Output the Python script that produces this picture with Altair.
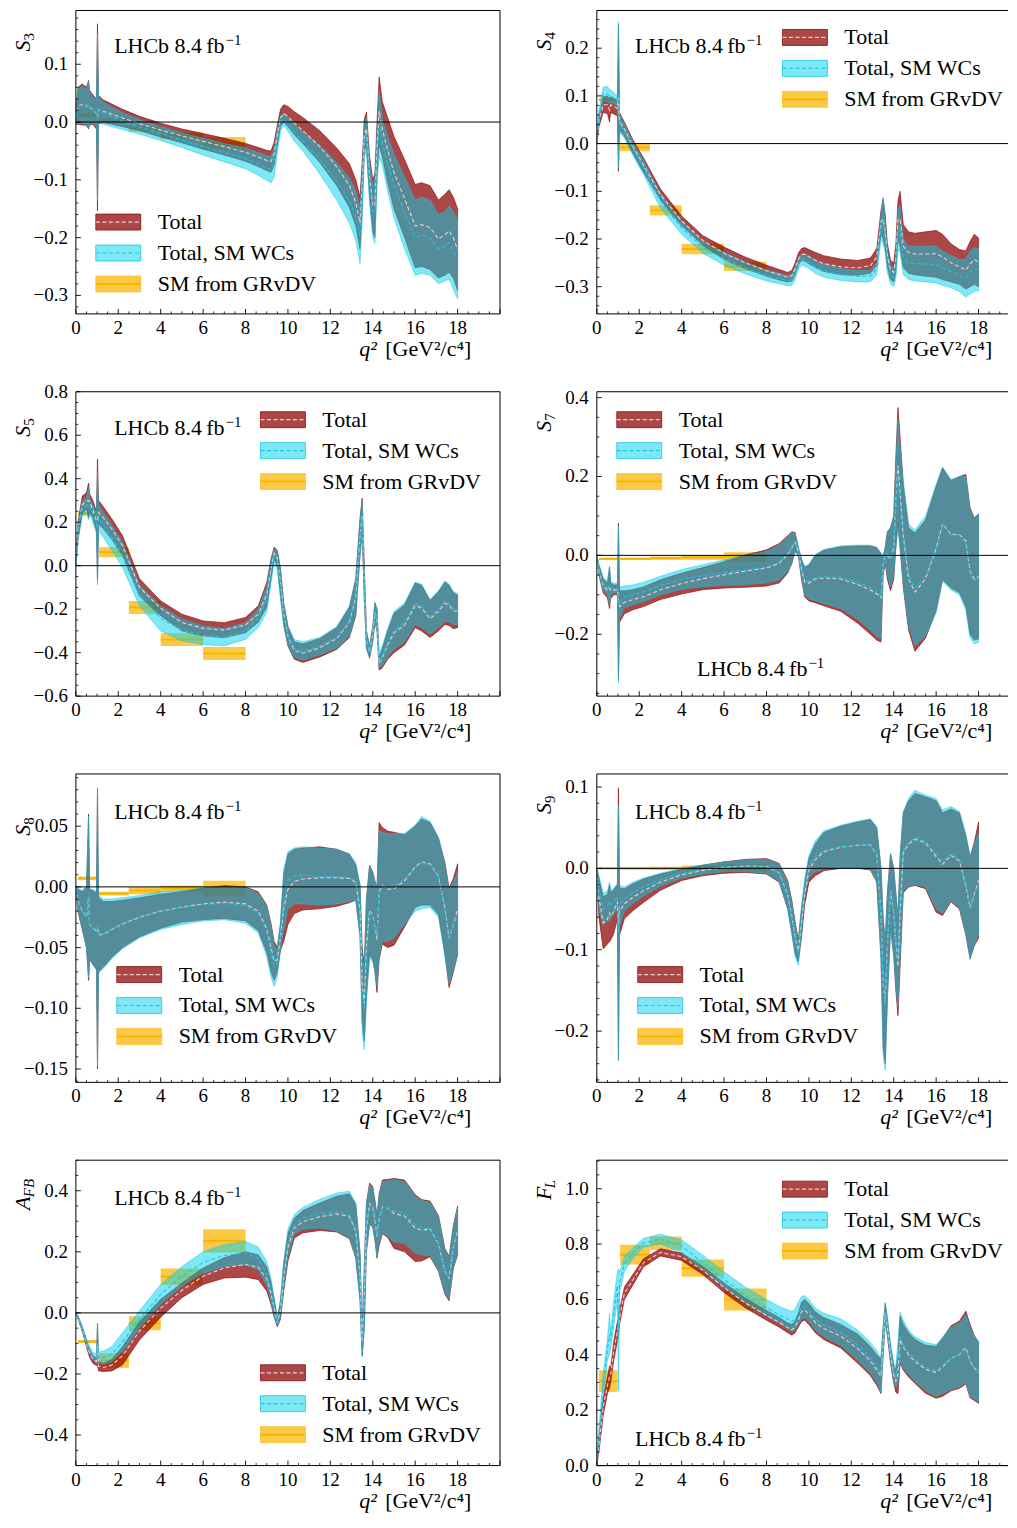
import altair as alt
import numpy as np
import pandas as pd

# ---------------- data ----------------
Q2 = [0.0, 0.1, 0.3, 0.5, 0.6, 0.65, 0.8, 0.97, 1.02, 1.07,
      1.3, 1.7, 2.2, 3.0, 4.0, 5.0, 6.0, 7.0, 8.0, 8.6,
      9.0, 9.2, 9.35, 9.5, 9.65, 9.8, 10.0, 10.3, 10.7, 11.5,
      12.3, 12.9, 13.2, 13.4, 13.5, 13.6, 13.7, 13.85, 14.0, 14.1,
      14.2, 14.3, 14.45, 14.7, 15.0, 15.5, 16.0, 16.3, 16.7, 17.1,
      17.4, 17.6, 17.8, 18.0]

# S3
S3_TOTAL_LO = [-0.004, -0.004, -0.005, -0.006, -0.012, -0.005, -0.004, -0.012, -0.154, -0.003,
               -0.001, -0.004, -0.008, -0.015, -0.026, -0.036, -0.047, -0.057, -0.068, -0.077,
               -0.084, -0.087, -0.075, -0.04, -0.008, 0.0, -0.008, -0.022, -0.037, -0.07,
               -0.11, -0.148, -0.18, -0.22, -0.15, -0.05, -0.04, -0.13, -0.19, -0.2,
               -0.09, -0.04, -0.06, -0.105, -0.15, -0.2, -0.252, -0.25, -0.255, -0.27,
               -0.265, -0.26, -0.27, -0.292]
S3_TOTAL_HI = [0.02, 0.06, 0.066, 0.06, 0.072, 0.055, 0.047, 0.04, 0.17, 0.046,
               0.038, 0.031, 0.022, 0.01, -0.002, -0.012, -0.02, -0.028, -0.037, -0.044,
               -0.049, -0.05, -0.035, -0.005, 0.022, 0.03, 0.027, 0.018, 0.008, -0.015,
               -0.045, -0.072, -0.1, -0.13, -0.07, 0.005, 0.017, -0.06, -0.1, -0.09,
               0.0, 0.078, 0.035, 0.008, -0.025, -0.065, -0.108, -0.105, -0.11, -0.135,
               -0.125, -0.117, -0.13, -0.15]
S3_SMWC_LO = [-0.004, -0.002, -0.003, -0.005, -0.01, -0.004, -0.002, -0.01, -0.137, -0.002,
              -0.004, -0.008, -0.013, -0.021, -0.032, -0.044, -0.057, -0.069, -0.081, -0.092,
              -0.101, -0.105, -0.095, -0.055, -0.015, -0.006, -0.016, -0.033, -0.05, -0.09,
              -0.135, -0.175, -0.205, -0.245, -0.17, -0.06, -0.05, -0.14, -0.2, -0.21,
              -0.11, -0.06, -0.075, -0.12, -0.165, -0.22, -0.265, -0.262, -0.265, -0.28,
              -0.275, -0.272, -0.29, -0.306]
S3_SMWC_HI = [0.02, 0.057, 0.062, 0.057, 0.07, 0.052, 0.044, 0.037, 0.152, 0.043,
              0.034, 0.026, 0.016, 0.004, -0.008, -0.019, -0.028, -0.037, -0.045, -0.053,
              -0.058, -0.06, -0.045, -0.012, 0.01, 0.016, 0.007, -0.004, -0.016, -0.04,
              -0.07, -0.097, -0.12, -0.15, -0.09, -0.005, 0.008, -0.07, -0.11, -0.1,
              -0.02, 0.055, 0.005, -0.025, -0.055, -0.095, -0.135, -0.13, -0.135, -0.16,
              -0.155, -0.145, -0.155, -0.168]

# S4
S4_TOTAL_LO = [0.0, 0.035, 0.065, 0.063, 0.045, 0.065, 0.062, 0.058, -0.058, 0.028,
               0.016, -0.02, -0.06, -0.118, -0.172, -0.213, -0.243, -0.262, -0.278, -0.286,
               -0.29, -0.288, -0.275, -0.255, -0.245, -0.246, -0.252, -0.26, -0.268, -0.275,
               -0.276, -0.272, -0.255, -0.19, -0.2, -0.22, -0.26, -0.285, -0.29, -0.27,
               -0.2, -0.215, -0.26, -0.272, -0.275, -0.278, -0.28, -0.285, -0.29, -0.295,
               -0.305, -0.3, -0.295, -0.3]
S4_TOTAL_HI = [0.005, 0.06, 0.098, 0.1, 0.095, 0.098, 0.094, 0.09, 0.25, 0.065,
               0.045, 0.008, -0.03, -0.095, -0.152, -0.193, -0.217, -0.238, -0.255, -0.264,
               -0.27, -0.266, -0.25, -0.23, -0.22, -0.218, -0.222, -0.228, -0.235, -0.242,
               -0.245, -0.24, -0.22, -0.14, -0.115, -0.15, -0.21, -0.245, -0.25, -0.21,
               -0.12, -0.1, -0.17, -0.185, -0.188, -0.185, -0.182, -0.19, -0.21, -0.222,
               -0.225, -0.205, -0.19, -0.198]
S4_SMWC_LO = [0.0, 0.045, 0.09, 0.088, 0.085, 0.087, 0.084, 0.078, -0.05, 0.022,
              0.012, -0.025, -0.065, -0.135, -0.19, -0.23, -0.255, -0.273, -0.288, -0.294,
              -0.298, -0.297, -0.285, -0.265, -0.255, -0.257, -0.262, -0.272, -0.28, -0.287,
              -0.29, -0.29, -0.275, -0.2, -0.21, -0.23, -0.27, -0.295, -0.3, -0.285,
              -0.22, -0.23, -0.275, -0.285, -0.288, -0.29, -0.292, -0.297, -0.302, -0.31,
              -0.322, -0.315, -0.31, -0.308]
S4_SMWC_HI = [0.005, 0.07, 0.118, 0.12, 0.113, 0.113, 0.107, 0.1, 0.255, 0.062,
              0.042, 0.004, -0.035, -0.105, -0.163, -0.205, -0.228, -0.248, -0.265, -0.272,
              -0.277, -0.273, -0.258, -0.24, -0.232, -0.23, -0.236, -0.245, -0.252, -0.262,
              -0.266, -0.266, -0.25, -0.15, -0.112, -0.16, -0.225, -0.255, -0.262, -0.235,
              -0.14, -0.13, -0.2, -0.215, -0.215, -0.215, -0.215, -0.225, -0.235, -0.243,
              -0.242, -0.225, -0.218, -0.22]

# S5
S5_TOTAL_LO = [0.0, 0.12, 0.24, 0.26, 0.22, 0.25, 0.22, 0.16, -0.07, 0.19,
               0.17, 0.12, 0.046, -0.14, -0.23, -0.3, -0.323, -0.331, -0.308, -0.26,
               -0.19, -0.06, 0.03, 0.0, -0.14, -0.27, -0.37, -0.43, -0.445, -0.42,
               -0.385, -0.33, -0.23, 0.05, 0.15, -0.15, -0.38, -0.425, -0.35, -0.26,
               -0.3, -0.48, -0.47, -0.43, -0.4, -0.365, -0.285, -0.3, -0.33, -0.3,
               -0.27, -0.275, -0.29, -0.285]
S5_TOTAL_HI = [0.02, 0.2, 0.32, 0.335, 0.38, 0.33, 0.3, 0.25, 0.49, 0.3,
               0.27, 0.215, 0.138, -0.06, -0.162, -0.223, -0.254, -0.262, -0.238, -0.185,
               -0.077, 0.03, 0.085, 0.07, -0.015, -0.17, -0.28, -0.35, -0.36, -0.335,
               -0.285, -0.19, -0.06, 0.22, 0.31, 0.0, -0.3, -0.37, -0.28, -0.17,
               -0.2, -0.42, -0.38, -0.3, -0.22, -0.18, -0.08, -0.09, -0.16, -0.12,
               -0.075, -0.09, -0.125, -0.135]
S5_SMWC_LO = [0.0, 0.12, 0.23, 0.245, 0.21, 0.24, 0.2, 0.15, -0.09, 0.16,
              0.13, 0.07, -0.008, -0.185, -0.3, -0.346, -0.362, -0.369, -0.338, -0.285,
              -0.215, -0.08, 0.015, -0.02, -0.15, -0.28, -0.37, -0.42, -0.435, -0.41,
              -0.38, -0.325, -0.225, 0.05, 0.15, -0.15, -0.38, -0.42, -0.345, -0.26,
              -0.3, -0.47, -0.46, -0.42, -0.385, -0.35, -0.27, -0.285, -0.315, -0.285,
              -0.255, -0.26, -0.27, -0.27]
S5_SMWC_HI = [0.02, 0.19, 0.3, 0.31, 0.36, 0.31, 0.28, 0.24, 0.43, 0.28,
              0.245, 0.185, 0.108, -0.09, -0.185, -0.246, -0.277, -0.289, -0.262, -0.2,
              -0.095, 0.02, 0.075, 0.07, -0.02, -0.175, -0.28, -0.34, -0.35, -0.33,
              -0.28, -0.185, -0.055, 0.21, 0.3, -0.01, -0.3, -0.37, -0.28, -0.17,
              -0.2, -0.41, -0.37, -0.29, -0.21, -0.172, -0.075, -0.085, -0.155, -0.115,
              -0.07, -0.085, -0.12, -0.128]

# S7
S7_TOTAL_LO = [-0.005, -0.05, -0.095, -0.108, -0.135, -0.11, -0.1, -0.1, -0.315, -0.17,
               -0.148, -0.138, -0.13, -0.112, -0.098, -0.087, -0.083, -0.081, -0.078, -0.07,
               -0.045, -0.02, 0.01, 0.0, -0.06, -0.105, -0.116, -0.12, -0.128, -0.142,
               -0.172, -0.2, -0.215, -0.22, -0.05, -0.02, -0.06, -0.09, -0.06, 0.02,
               0.08, 0.02, -0.08, -0.19, -0.243, -0.21, -0.14, -0.062, -0.083, -0.095,
               -0.13, -0.2, -0.215, -0.212]
S7_TOTAL_HI = [0.0, -0.025, -0.06, -0.07, -0.03, -0.07, -0.075, -0.075, 0.082, -0.09,
               -0.09, -0.087, -0.08, -0.062, -0.045, -0.031, -0.016, 0.001, 0.014, 0.03,
               0.05, 0.06, 0.058, 0.02, -0.01, -0.03, -0.025, 0.0, 0.013, 0.022,
               0.024, 0.024, 0.02, 0.005, -0.002, 0.02, 0.06, 0.07, 0.1, 0.25,
               0.375, 0.3, 0.18, 0.07, 0.057, 0.09, 0.175, 0.222, 0.19, 0.2,
               0.205, 0.12, 0.095, 0.105]
S7_SMWC_LO = [-0.005, -0.048, -0.09, -0.1, -0.125, -0.1, -0.095, -0.095, -0.323, -0.16,
              -0.133, -0.125, -0.117, -0.1, -0.086, -0.079, -0.076, -0.074, -0.07, -0.062,
              -0.04, -0.018, 0.01, 0.0, -0.055, -0.1, -0.11, -0.115, -0.122, -0.135,
              -0.162, -0.19, -0.205, -0.21, -0.045, -0.015, -0.05, -0.08, -0.05, 0.02,
              0.07, 0.02, -0.075, -0.18, -0.23, -0.205, -0.145, -0.065, -0.088, -0.1,
              -0.14, -0.21, -0.225, -0.22]
S7_SMWC_HI = [0.0, -0.022, -0.055, -0.066, -0.028, -0.066, -0.07, -0.072, 0.075, -0.08,
              -0.078, -0.075, -0.068, -0.053, -0.036, -0.024, -0.011, -0.001, 0.01, 0.027,
              0.048, 0.058, 0.056, 0.02, -0.01, -0.028, -0.022, 0.002, 0.015, 0.024,
              0.026, 0.026, 0.02, 0.005, -0.002, 0.025, 0.06, 0.07, 0.1, 0.23,
              0.345, 0.28, 0.19, 0.08, 0.065, 0.1, 0.18, 0.224, 0.192, 0.2,
              0.2, 0.115, 0.095, 0.105]

# S8
S8_TOTAL_LO = [-0.002, -0.02, -0.035, -0.05, -0.077, -0.06, -0.064, -0.068, -0.15, -0.07,
               -0.066, -0.058, -0.05, -0.041, -0.034, -0.029, -0.027, -0.026, -0.028, -0.036,
               -0.054, -0.07, -0.077, -0.07, -0.052, -0.045, -0.031, -0.022, -0.019, -0.018,
               -0.016, -0.013, -0.011, -0.04, -0.11, -0.127, -0.09, -0.056, -0.06, -0.07,
               -0.087, -0.06, -0.047, -0.05, -0.048, -0.033, -0.017, -0.015, -0.015, -0.023,
               -0.055, -0.083, -0.07, -0.056]
S8_TOTAL_HI = [0.0, -0.002, -0.004, 0.0, 0.06, -0.002, -0.003, -0.005, 0.081, -0.009,
               -0.012, -0.012, -0.011, -0.009, -0.006, -0.004, -0.001, 0.001, 0.0, -0.004,
               -0.015, -0.03, -0.045, -0.05, -0.03, 0.01, 0.027, 0.031, 0.032, 0.033,
               0.031, 0.027, 0.018, 0.001, -0.05, -0.065, -0.01, 0.018, 0.012, 0.005,
               0.0, 0.053, 0.049, 0.046, 0.045, 0.043, 0.05, 0.056, 0.053, 0.04,
               0.02, -0.001, 0.007, 0.019]
S8_SMWC_LO = [-0.002, -0.02, -0.034, -0.05, -0.075, -0.06, -0.064, -0.067, -0.147, -0.071,
              -0.067, -0.059, -0.051, -0.042, -0.035, -0.031, -0.028, -0.027, -0.03, -0.038,
              -0.057, -0.074, -0.082, -0.074, -0.05, -0.036, -0.018, -0.014, -0.014, -0.015,
              -0.014, -0.012, -0.011, -0.042, -0.12, -0.134, -0.095, -0.058, -0.062, -0.07,
              -0.082, -0.057, -0.045, -0.045, -0.042, -0.031, -0.02, -0.018, -0.017, -0.025,
              -0.057, -0.08, -0.068, -0.057]
S8_SMWC_HI = [0.0, -0.001, -0.003, 0.0, 0.058, -0.002, -0.002, -0.004, 0.082, -0.007,
              -0.01, -0.01, -0.009, -0.007, -0.004, -0.003, -0.001, 0.0, -0.001, -0.005,
              -0.016, -0.032, -0.048, -0.052, -0.028, 0.015, 0.029, 0.032, 0.033, 0.032,
              0.031, 0.027, 0.02, 0.002, -0.055, -0.068, -0.012, 0.018, 0.012, 0.005,
              0.0, 0.046, 0.045, 0.044, 0.044, 0.044, 0.051, 0.058, 0.054, 0.041,
              0.019, -0.003, 0.004, 0.012]

# S9
S9_TOTAL_LO = [-0.003, -0.06, -0.099, -0.093, -0.09, -0.088, -0.08, -0.062, -0.236, -0.082,
               -0.062, -0.052, -0.042, -0.027, -0.015, -0.009, -0.006, -0.005, -0.007, -0.017,
               -0.05, -0.08, -0.105, -0.115, -0.085, -0.045, -0.017, -0.009, -0.003, 0.0,
               0.0, -0.002, -0.017, -0.11, -0.22, -0.24, -0.16, -0.074, -0.107, -0.15,
               -0.181, -0.12, -0.03, -0.023, -0.021, -0.025, -0.054, -0.058, -0.041, -0.05,
               -0.082, -0.111, -0.095, -0.086]
S9_TOTAL_HI = [0.0, -0.012, -0.035, -0.032, -0.02, -0.03, -0.026, -0.02, 0.099, -0.024,
               -0.025, -0.019, -0.013, -0.007, -0.001, 0.004, 0.008, 0.011, 0.012, 0.006,
               -0.015, -0.04, -0.066, -0.088, -0.05, -0.018, 0.012, 0.03, 0.044, 0.052,
               0.057, 0.06, 0.05, 0.0, -0.06, -0.09, -0.03, 0.018, 0.0, -0.03,
               -0.06, 0.015, 0.068, 0.083, 0.092, 0.088, 0.083, 0.068, 0.073, 0.068,
               0.04, 0.014, 0.032, 0.057]
S9_SMWC_LO = [-0.003, -0.05, -0.07, -0.065, -0.065, -0.062, -0.056, -0.05, -0.236, -0.07,
              -0.052, -0.043, -0.034, -0.022, -0.012, -0.007, -0.004, -0.004, -0.006, -0.016,
              -0.05, -0.082, -0.108, -0.119, -0.08, -0.036, -0.01, -0.004, -0.001, 0.0,
              0.0, -0.001, -0.016, -0.115, -0.23, -0.248, -0.165, -0.075, -0.107, -0.145,
              -0.17, -0.11, -0.028, -0.022, -0.02, -0.023, -0.05, -0.055, -0.04, -0.048,
              -0.08, -0.112, -0.094, -0.082]
S9_SMWC_HI = [0.0, -0.01, -0.03, -0.028, -0.017, -0.027, -0.024, -0.019, 0.077, -0.021,
              -0.023, -0.017, -0.012, -0.006, 0.0, 0.004, 0.008, 0.01, 0.011, 0.005,
              -0.017, -0.042, -0.068, -0.09, -0.048, -0.013, 0.016, 0.034, 0.046, 0.053,
              0.058, 0.061, 0.051, 0.0, -0.06, -0.09, -0.03, 0.018, 0.0, -0.03,
              -0.06, 0.015, 0.07, 0.086, 0.096, 0.09, 0.086, 0.072, 0.076, 0.07,
              0.042, 0.015, 0.03, 0.043]

# A_FB
AFB_TOTAL_LO = [-0.003, -0.02, -0.06, -0.11, -0.135, -0.145, -0.165, -0.172, -0.172, -0.19,
                -0.192, -0.19, -0.17, -0.089, -0.014, 0.05, 0.093, 0.114, 0.117, 0.109,
                0.072, 0.029, -0.014, -0.046, -0.02, 0.072, 0.17, 0.245, 0.262, 0.27,
                0.265, 0.243, 0.179, 0.04, -0.142, -0.05, 0.2, 0.291, 0.28, 0.24,
                0.179, 0.22, 0.259, 0.248, 0.211, 0.2, 0.168, 0.17, 0.184, 0.136,
                0.061, 0.04, 0.147, 0.189]
AFB_TOTAL_HI = [0.002, -0.01, -0.045, -0.09, -0.11, -0.12, -0.14, -0.148, -0.035, -0.16,
                -0.165, -0.152, -0.11, -0.03, 0.045, 0.098, 0.147, 0.181, 0.2, 0.19,
                0.15, 0.1, 0.045, -0.02, 0.04, 0.16, 0.26, 0.31, 0.335, 0.36,
                0.382, 0.39, 0.355, 0.195, -0.05, 0.15, 0.36, 0.425, 0.414, 0.37,
                0.318, 0.39, 0.435, 0.437, 0.44, 0.435, 0.387, 0.371, 0.366, 0.318,
                0.211, 0.185, 0.286, 0.35]
AFB_SMWC_LO = [-0.003, -0.02, -0.058, -0.105, -0.125, -0.135, -0.15, -0.16, -0.16, -0.165,
               -0.168, -0.16, -0.125, -0.051, 0.029, 0.088, 0.13, 0.152, 0.157, 0.141,
               0.09, 0.04, -0.01, -0.044, -0.015, 0.08, 0.185, 0.259, 0.275, 0.278,
               0.268, 0.245, 0.18, 0.04, -0.142, -0.05, 0.2, 0.291, 0.28, 0.24,
               0.185, 0.23, 0.262, 0.252, 0.232, 0.228, 0.195, 0.19, 0.188, 0.14,
               0.065, 0.045, 0.15, 0.19]
AFB_SMWC_HI = [0.002, -0.01, -0.043, -0.085, -0.103, -0.11, -0.128, -0.135, -0.035, -0.128,
               -0.125, -0.11, -0.065, 0.007, 0.093, 0.152, 0.2, 0.224, 0.234, 0.216,
               0.168, 0.114, 0.05, -0.02, 0.045, 0.168, 0.275, 0.323, 0.345, 0.372,
               0.393, 0.398, 0.36, 0.2, -0.05, 0.15, 0.36, 0.42, 0.41, 0.365,
               0.315, 0.385, 0.43, 0.432, 0.436, 0.43, 0.383, 0.368, 0.362, 0.315,
               0.208, 0.18, 0.282, 0.345]

# F_L
FL_TOTAL_LO = [0.0, 0.05, 0.18, 0.26, 0.28, 0.3, 0.38, 0.45, 0.47, 0.51,
               0.6, 0.652, 0.718, 0.757, 0.741, 0.69, 0.625, 0.57, 0.525, 0.5,
               0.48, 0.471, 0.48, 0.5, 0.52, 0.525, 0.51, 0.48, 0.455, 0.425,
               0.37, 0.325, 0.29, 0.26, 0.4, 0.52, 0.47, 0.37, 0.297, 0.265,
               0.26, 0.37, 0.345, 0.32, 0.297, 0.261, 0.243, 0.25, 0.27, 0.279,
               0.295, 0.245, 0.235, 0.225]
FL_TOTAL_HI = [0.01, 0.1, 0.24, 0.32, 0.36, 0.35, 0.45, 0.52, 0.53, 0.56,
               0.645, 0.69, 0.747, 0.783, 0.768, 0.72, 0.66, 0.605, 0.56, 0.535,
               0.515, 0.51, 0.52, 0.55, 0.59, 0.6, 0.585, 0.555, 0.535, 0.51,
               0.475, 0.43, 0.4, 0.385, 0.5, 0.585, 0.53, 0.43, 0.36, 0.345,
               0.4, 0.54, 0.51, 0.48, 0.455, 0.435, 0.43, 0.46, 0.505, 0.522,
               0.558, 0.51, 0.47, 0.445]
FL_SMWC_LO = [0.0, 0.08, 0.25, 0.38, 0.4, 0.42, 0.5, 0.6, 0.27, 0.62,
              0.7, 0.748, 0.789, 0.8, 0.77, 0.705, 0.645, 0.585, 0.54, 0.515,
              0.495, 0.485, 0.49, 0.51, 0.53, 0.534, 0.52, 0.49, 0.465, 0.435,
              0.38, 0.335, 0.3, 0.265, 0.4, 0.52, 0.47, 0.375, 0.3, 0.28,
              0.3, 0.38, 0.35, 0.33, 0.305, 0.27, 0.25, 0.26, 0.275, 0.285,
              0.3, 0.25, 0.24, 0.232]
FL_SMWC_HI = [0.01, 0.13, 0.33, 0.46, 0.55, 0.48, 0.6, 0.7, 0.71, 0.7,
              0.755, 0.785, 0.821, 0.836, 0.815, 0.76, 0.7, 0.645, 0.6, 0.575,
              0.563, 0.557, 0.565, 0.59, 0.61, 0.614, 0.6, 0.569, 0.55, 0.53,
              0.49, 0.445, 0.415, 0.39, 0.5, 0.59, 0.535, 0.44, 0.37, 0.36,
              0.45, 0.555, 0.525, 0.49, 0.465, 0.445, 0.437, 0.463, 0.5, 0.515,
              0.545, 0.5, 0.465, 0.451]

# SM from GRvDV, binned
BIN_LO = [0.1, 1.1, 2.5, 4.0, 6.0]
BIN_HI = [0.98, 2.5, 4.0, 6.0, 8.0]
S3_GRVDV = [0.012, 0.002, -0.012, -0.024, -0.037]
S3_GRVDV_ERR = [0.004, 0.004, 0.005, 0.006, 0.011]
S4_GRVDV = [0.092, -0.008, -0.14, -0.221, -0.257]
S4_GRVDV_ERR = [0.004, 0.008, 0.011, 0.011, 0.01]
S5_GRVDV = [0.238, 0.062, -0.192, -0.34, -0.404]
S5_GRVDV_ERR = [0.008, 0.023, 0.03, 0.029, 0.03]
S7_GRVDV = [-0.009, -0.009, -0.007, -0.005, -0.004]
S7_GRVDV_ERR = [0.003, 0.003, 0.004, 0.006, 0.012]
S8_GRVDV = [0.007, -0.0055, -0.003, -0.0015, -0.0015]
S8_GRVDV_ERR = [0.0015, 0.0015, 0.003, 0.0025, 0.0065]
S9_GRVDV = [0.0, 0.0, 0.0, 0.0005, 0.0007]
S9_GRVDV_ERR = [0.001, 0.0015, 0.002, 0.003, 0.005]
AFB_GRVDV = [-0.094, -0.156, -0.034, 0.118, 0.236]
AFB_GRVDV_ERR = [0.005, 0.024, 0.023, 0.027, 0.038]
FL_GRVDV = [0.305, 0.762, 0.803, 0.713, 0.6]
FL_GRVDV_ERR = [0.039, 0.036, 0.024, 0.031, 0.04]

# axis ticks / labels
X_TICKS = [0, 2, 4, 6, 8, 10, 12, 14, 16, 18]
S3_YTICKS = [-0.3, -0.2, -0.1, 0.0, 0.1]
S4_YTICKS = [-0.3, -0.2, -0.1, 0.0, 0.1, 0.2]
S5_YTICKS = [-0.6, -0.4, -0.2, 0.0, 0.2, 0.4, 0.6, 0.8]
S7_YTICKS = [-0.2, 0.0, 0.2, 0.4]
S8_YTICKS = [-0.15, -0.10, -0.05, 0.0, 0.05]
S9_YTICKS = [-0.2, -0.1, 0.0, 0.1]
AFB_YTICKS = [-0.4, -0.2, 0.0, 0.2, 0.4]
FL_YTICKS = [0.0, 0.2, 0.4, 0.6, 0.8, 1.0]

LEGEND_LABELS = ["Total", "Total, SM WCs", "SM from GRvDV"]
LHCB_MAIN = "LHCb 8.4\u2009fb"
LHCB_SUP = "\u22121"
XLABEL_Q = "q\u00b2"
XLABEL_UNIT = "[GeV\u00b2/c\u2074]"

# ---------------- style ----------------
FONT = "Liberation Serif"
RED = "#8b0000"
RED_EDGE = "#8b0a0a"
CYAN = "#00d2ec"
CYAN_EDGE = "#12c8e6"
YELLOW = "#fbc22c"
YELLOW_LINE = "#f7b500"
RED_DASH = "#f7cccc"
CYAN_DASH = "#1cc4e6"
ONE = pd.DataFrame({"d": [0]})

PANELS = [
    dict(tlo=S3_TOTAL_LO, thi=S3_TOTAL_HI, slo=S3_SMWC_LO, shi=S3_SMWC_HI,
         gr=S3_GRVDV, gre=S3_GRVDV_ERR, yt=S3_YTICKS, nd=1, ydom=[-0.332, 0.193],
         minor=0.02, right=False, H=304, leg=(20, 212), lhcb=(149, 43),
         ylab="S", ysub="3", subitalic=False, subdx=11, ylab_y=41),
    dict(tlo=S4_TOTAL_LO, thi=S4_TOTAL_HI, slo=S4_SMWC_LO, shi=S4_SMWC_HI,
         gr=S4_GRVDV, gre=S4_GRVDV_ERR, yt=S4_YTICKS, nd=1, ydom=[-0.357, 0.279],
         minor=0.02, right=True, H=304, leg=(186, 27), lhcb=(149, 43),
         ylab="S", ysub="4", subitalic=False, subdx=11, ylab_y=40),
    dict(tlo=S5_TOTAL_LO, thi=S5_TOTAL_HI, slo=S5_SMWC_LO, shi=S5_SMWC_HI,
         gr=S5_GRVDV, gre=S5_GRVDV_ERR, yt=S5_YTICKS, nd=1, ydom=[-0.6, 0.8],
         minor=0.05, right=False, H=305, leg=(185, 28), lhcb=(149, 43),
         ylab="S", ysub="5", subitalic=False, subdx=11, ylab_y=45),
    dict(tlo=S7_TOTAL_LO, thi=S7_TOTAL_HI, slo=S7_SMWC_LO, shi=S7_SMWC_HI,
         gr=S7_GRVDV, gre=S7_GRVDV_ERR, yt=S7_YTICKS, nd=1, ydom=[-0.357, 0.415],
         minor=0.05, right=True, H=305, leg=(20, 28), lhcb=(211, 285),
         ylab="S", ysub="7", subitalic=False, subdx=11, ylab_y=40),
    dict(tlo=S8_TOTAL_LO, thi=S8_TOTAL_HI, slo=S8_SMWC_LO, shi=S8_SMWC_HI,
         gr=S8_GRVDV, gre=S8_GRVDV_ERR, yt=S8_YTICKS, nd=2, ydom=[-0.161, 0.093],
         minor=0.01, right=False, H=309, leg=(41, 201), lhcb=(149, 45),
         ylab="S", ysub="8", subitalic=False, subdx=11, ylab_y=62),
    dict(tlo=S9_TOTAL_LO, thi=S9_TOTAL_HI, slo=S9_SMWC_LO, shi=S9_SMWC_HI,
         gr=S9_GRVDV, gre=S9_GRVDV_ERR, yt=S9_YTICKS, nd=1, ydom=[-0.263, 0.116],
         minor=0.02, right=True, H=309, leg=(41, 201), lhcb=(149, 45),
         ylab="S", ysub="9", subitalic=False, subdx=11, ylab_y=40),
    dict(tlo=AFB_TOTAL_LO, thi=AFB_TOTAL_HI, slo=AFB_SMWC_LO, shi=AFB_SMWC_HI,
         gr=AFB_GRVDV, gre=AFB_GRVDV_ERR, yt=AFB_YTICKS, nd=1, ydom=[-0.5, 0.5],
         minor=0.05, right=False, H=306, leg=(185, 213), lhcb=(149, 45),
         ylab="A", ysub="FB", subitalic=True, subdx=13, ylab_y=50),
    dict(tlo=FL_TOTAL_LO, thi=FL_TOTAL_HI, slo=FL_SMWC_LO, shi=FL_SMWC_HI,
         gr=FL_GRVDV, gre=FL_GRVDV_ERR, yt=FL_YTICKS, nd=1, ydom=[0.0, 1.103],
         minor=0.05, right=True, H=306, leg=(186, 29), lhcb=(149, 286),
         ylab="F", ysub="L", subitalic=True, subdx=12, ylab_y=40),
]


def fmt_num(v, nd):
    s = f"{v:.{nd}f}"
    if s.startswith("-"):
        s = "\u2212" + s[1:]
    return s


def txt(text, x, y, size=22, align="left", baseline="alphabetic", italic=False,
        angle=None, dx=0, dy=0):
    kw = dict(text=text, align=align, baseline=baseline, font=FONT, fontSize=size,
              color="black", fontStyle="italic" if italic else "normal", dx=dx, dy=dy)
    if angle is not None:
        kw["angle"] = angle
    return alt.Chart(ONE).mark_text(**kw).encode(x=alt.value(x), y=alt.value(y))


def hrule(x1, x2, y, color="black", width=1.0, dash=None):
    kw = dict(color=color, strokeWidth=width)
    if dash:
        kw["strokeDash"] = dash
    return alt.Chart(ONE).mark_rule(**kw).encode(x=alt.value(x1), x2=alt.value(x2), y=alt.value(y))


def vrule(x, y1, y2, color="black", width=1.0, opacity=1.0):
    return alt.Chart(ONE).mark_rule(color=color, strokeWidth=width, opacity=opacity).encode(
        x=alt.value(x), y=alt.value(y1), y2=alt.value(y2))


def make_panel(p):
    W = 412 if p["right"] else 425
    H = p["H"]
    xmax = W / 21.25
    xs = alt.Scale(domain=[0, xmax], nice=False, zero=False)
    ys = alt.Scale(domain=p["ydom"], nice=False, zero=False)

    band = pd.DataFrame({"q": Q2, "rlo": p["tlo"], "rhi": p["thi"],
                         "clo": p["slo"], "chi": p["shi"]})
    band["rc"] = (band["rlo"] + band["rhi"]) / 2
    band["cc"] = (band["clo"] + band["chi"]) / 2
    bins = pd.DataFrame({"a": BIN_LO, "b": BIN_HI, "c": p["gr"], "e": p["gre"]})
    bins["lo"] = bins["c"] - bins["e"]
    bins["hi"] = bins["c"] + bins["e"]

    X = lambda f: alt.X(f, type="quantitative", scale=xs, axis=None)
    Y = lambda f: alt.Y(f, type="quantitative", scale=ys, axis=None)

    layers = []
    # invisible spacer fixing the left extent of the panel (room for the y title)
    layers.append(vrule(-68, 0, 1, color="white", width=0.5, opacity=0))
    # GRvDV bins
    layers.append(alt.Chart(bins).mark_rect(fill=YELLOW, opacity=0.88).encode(
        x=X("a"), x2="b:Q", y=Y("lo"), y2="hi:Q"))
    layers.append(alt.Chart(bins).mark_rule(color=YELLOW_LINE, strokeWidth=2).encode(
        x=X("a"), x2="b:Q", y=Y("c")))
    # bands
    layers.append(alt.Chart(band).mark_area(
        fill=RED, fillOpacity=0.72, stroke=RED_EDGE, strokeOpacity=0.8, strokeWidth=0.8,
        clip=True).encode(x=X("q"), y=Y("rlo"), y2="rhi:Q"))
    layers.append(alt.Chart(band).mark_area(
        fill=CYAN, fillOpacity=0.5, stroke=CYAN_EDGE, strokeOpacity=0.6, strokeWidth=0.8,
        clip=True).encode(x=X("q"), y=Y("clo"), y2="chi:Q"))
    layers.append(alt.Chart(band).mark_line(
        color=RED_DASH, strokeWidth=1.1, strokeDash=[4, 2.5], clip=True).encode(
        x=X("q"), y=Y("rc")))
    layers.append(alt.Chart(band).mark_line(
        color=CYAN_DASH, strokeWidth=1.1, strokeDash=[4, 2.5], clip=True).encode(
        x=X("q"), y=Y("cc")))
    # zero line
    layers.append(alt.Chart(pd.DataFrame({"z": [0.0]})).mark_rule(
        color="black", strokeWidth=1).encode(y=Y("z"), x=alt.value(0), x2=alt.value(W)))

    # inward ticks
    xmaj = [t for t in range(0, 21, 2) if t <= xmax]
    xmin = [float(t) for t in np.arange(0, xmax, 0.5) if abs(t / 2 - round(t / 2)) > 1e-6]
    lo, hi = p["ydom"]
    st = p["minor"]
    ymin_all = [round(k * st, 6) for k in range(int(np.ceil(lo / st - 1e-9)), int(np.floor(hi / st + 1e-9)) + 1)]
    ymin = [v for v in ymin_all if all(abs(v - m) > 1e-6 for m in p["yt"])]
    layers.append(alt.Chart(pd.DataFrame({"t": xmaj})).mark_rule(color="black", strokeWidth=0.9).encode(
        x=X("t"), y=alt.value(H), y2=alt.value(H - 5)))
    layers.append(alt.Chart(pd.DataFrame({"t": xmin})).mark_rule(color="black", strokeWidth=0.8).encode(
        x=X("t"), y=alt.value(H), y2=alt.value(H - 2.5)))
    layers.append(alt.Chart(pd.DataFrame({"t": p["yt"]})).mark_rule(color="black", strokeWidth=0.9).encode(
        y=Y("t"), x=alt.value(0), x2=alt.value(5)))
    layers.append(alt.Chart(pd.DataFrame({"t": ymin})).mark_rule(color="black", strokeWidth=0.8).encode(
        y=Y("t"), x=alt.value(0), x2=alt.value(2.5)))

    # tick labels
    xl = pd.DataFrame({"t": X_TICKS, "s": [str(t) for t in X_TICKS]})
    layers.append(alt.Chart(xl).mark_text(font=FONT, fontSize=19, color="black",
                                          align="center", baseline="alphabetic").encode(
        x=X("t"), y=alt.value(H + 20), text="s:N"))
    yl = pd.DataFrame({"t": p["yt"], "s": [fmt_num(v, p["nd"]) for v in p["yt"]]})
    layers.append(alt.Chart(yl).mark_text(font=FONT, fontSize=19, color="black",
                                          align="right", baseline="middle").encode(
        y=Y("t"), x=alt.value(-8), text="s:N"))

    # frame
    layers.append(vrule(0, 0, H))
    layers.append(hrule(0, W, H))
    layers.append(hrule(0, W, 0))
    if not p["right"]:
        layers.append(vrule(W, 0, H))

    # legend
    lx, ly = p["leg"]
    styles = [
        dict(fill=RED, op=0.72, edge=RED_EDGE, line=RED_DASH, dash=[4, 2.5], lw=1.2),
        dict(fill=CYAN, op=0.5, edge=CYAN_EDGE, line=CYAN_DASH, dash=[4, 2.5], lw=1.2),
        dict(fill=YELLOW, op=0.88, edge=YELLOW, line=YELLOW_LINE, dash=None, lw=2),
    ]
    for i, (lab, s) in enumerate(zip(LEGEND_LABELS, styles)):
        yc = ly + 31 * i
        layers.append(alt.Chart(ONE).mark_rect(
            fill=s["fill"], fillOpacity=s["op"], stroke=s["edge"], strokeWidth=1,
            strokeOpacity=0.8).encode(
            x=alt.value(lx), x2=alt.value(lx + 45), y=alt.value(yc - 8), y2=alt.value(yc + 8)))
        layers.append(hrule(lx, lx + 45, yc, color=s["line"], width=s["lw"], dash=s["dash"]))
        layers.append(txt(lab, lx + 62, yc, size=22, baseline="middle"))

    # LHCb label
    tx, ty = p["lhcb"]
    layers.append(txt(LHCB_MAIN, tx, ty, size=22, align="right"))
    layers.append(txt(LHCB_SUP, tx + 1, ty - 8, size=15))

    # axis titles
    layers.append(txt(p["ylab"], -53, p["ylab_y"], size=22, italic=True, angle=270,
                      baseline="middle"))
    layers.append(txt(p["ysub"], -53, p["ylab_y"], size=15, italic=p["subitalic"], angle=270,
                      baseline="middle", dx=p["subdx"], dy=6))
    layers.append(txt(XLABEL_Q, 284, H + 42, size=22, italic=True))
    layers.append(txt(XLABEL_UNIT, 310, H + 42, size=22))

    return alt.layer(*layers).properties(width=W, height=H)


panels = [make_panel(p) for p in PANELS]

chart = alt.concat(
    *panels, columns=2, spacing={"row": 78, "column": 97}, bounds="flush", align="each",
    padding=0, background="white",
).configure_view(stroke=None)

chart.save("out.html", embed_options={"renderer": "svg", "actions": False})
